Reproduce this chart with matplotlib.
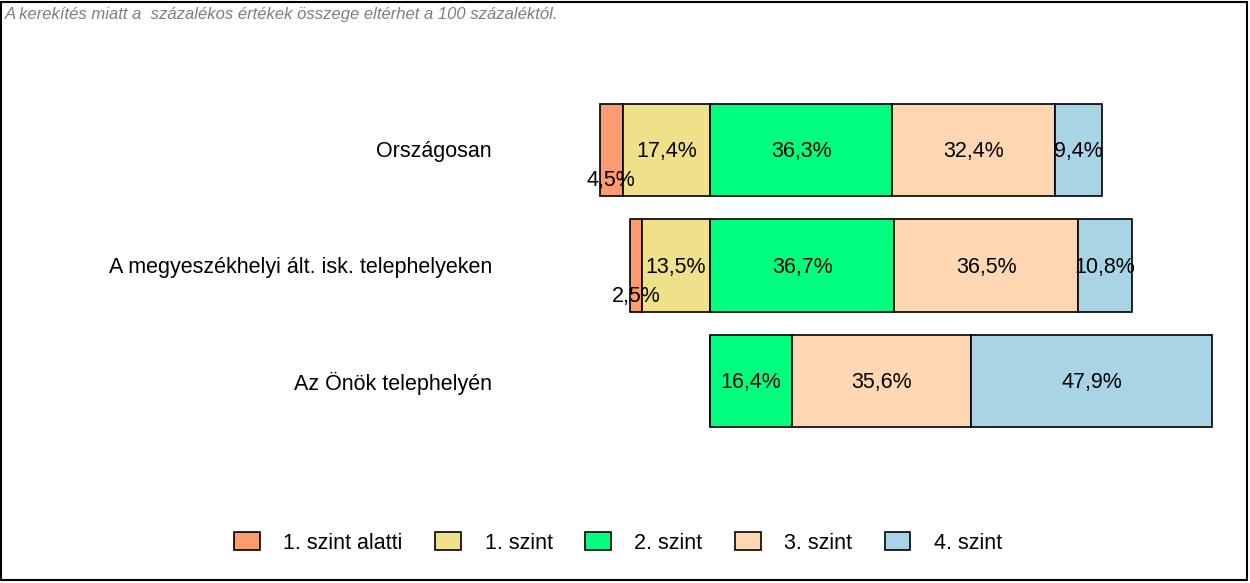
import matplotlib
matplotlib.use("Agg")
from matplotlib import pyplot as plt
from matplotlib.patches import Rectangle

categories = ["Országosan", "A megyeszékhelyi ált. isk. telephelyeken", "Az Önök telephelyén"]
series_names = ["1. szint alatti", "1. szint", "2. szint", "3. szint", "4. szint"]
below_1 = [4.5, 2.5, 0.0]
level_1 = [17.4, 13.5, 0.0]
level_2 = [36.3, 36.7, 16.4]
level_3 = [32.4, 36.5, 35.6]
level_4 = [9.4, 10.8, 47.9]
colors = ["#FF9B70", "#EEE18A", "#00FF7F", "#FFD8B3", "#A8D4E5"]

NOTE = "A kerekítés miatt a  százalékos értékek összege eltérhet a 100 százaléktól."


def fmt(v):
    return f"{v:.1f}".replace(".", ",") + "%"


plt.rcParams["font.family"] = ["Liberation Sans", "DejaVu Sans"]

fig = plt.figure(figsize=(12.5, 5.83), dpi=100)
ax = fig.add_axes([500 / 1250, 1 - 480 / 583, 740 / 1250, 440 / 583])
ax.set_xlim((500 - 710) / 5.025, (1240 - 710) / 5.025)
ax.set_ylim((480 - 150) / 115.5, (40 - 150) / 115.5)
ax.axis("off")

ypos = list(range(len(categories)))
bar_h = 0.805

# negative side: 1. szint next to zero, then 1. szint alatti
left_1 = [-v for v in level_1]
left_b = [-(a + b) for a, b in zip(level_1, below_1)]
left_3 = list(level_2)
left_4 = [a + b for a, b in zip(level_2, level_3)]

segments = [
    (below_1, left_b, 0.25),
    (level_1, left_1, 0.0),
    (level_2, [0.0] * 3, 0.0),
    (level_3, left_3, 0.0),
    (level_4, left_4, 0.0),
]

for (vals, lefts, dy), col, name in zip(segments, colors, series_names):
    ax.barh(ypos, vals, left=lefts, height=bar_h, color=col,
            edgecolor="black", linewidth=1.2, label=name)
    for y, v, l in zip(ypos, vals, lefts):
        if v <= 0:
            continue
        ax.text(l + v / 2, y + dy + 0.015, fmt(v), ha="center", va="center", fontsize=15.5)

for y, cat in zip(ypos, categories):
    ax.text(492 / 1250, 1 - (152 + y * 115.5) / 583, cat, transform=fig.transFigure,
            ha="right", va="center", fontsize=15.5)

fig.text(5 / 1250, 1 - 14 / 583, NOTE, ha="left", va="center", fontsize=12,
         style="italic", color="#7F7F7F")

fig.legend(loc="center", bbox_to_anchor=(618 / 1250, 1 - 543 / 583), ncol=5,
           frameon=False, fontsize=15.5, handlelength=1.2, handleheight=0.88,
           handletextpad=1.1, columnspacing=1.5)

fig.add_artist(Rectangle((1 / 1250, 3 / 583), 1246 / 1250, 578 / 583, fill=False,
                         lw=1.5, edgecolor="black", transform=fig.transFigure))

fig.savefig("out.png", dpi=100)
